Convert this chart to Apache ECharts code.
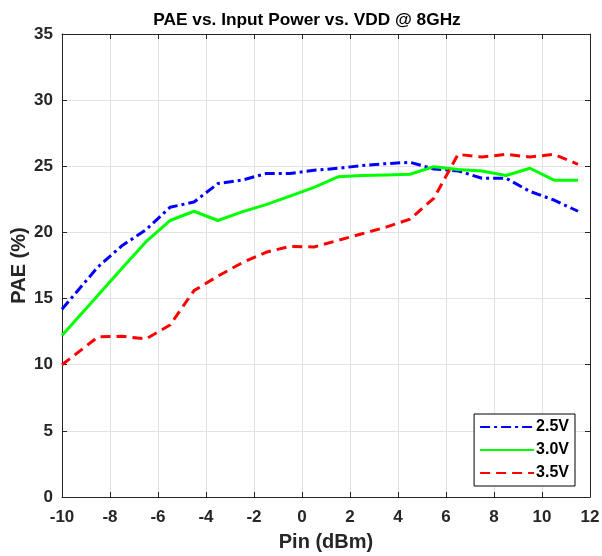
<!DOCTYPE html>
<html>
<head>
<meta charset="utf-8">
<script src="https://cdn.jsdelivr.net/npm/echarts@6/dist/echarts.min.js"></script>
<style>html,body{margin:0;padding:0;background:#fff}#c{width:602px;height:556px}</style>
</head>
<body>
<div id="c"></div>
<script>
const pin = [-10, -8.5, -7.5, -6.5, -5.5, -4.5, -3.5, -2.5, -1.5, -0.5, 0.5, 1.5, 2.5, 3.5, 4.5, 5.5, 6.5, 7.5, 8.5, 9.5, 10.5, 11.5];
const pae25 = [14.2, 17.4, 19.0, 20.2, 21.9, 22.3, 23.7, 23.95, 24.45, 24.45, 24.7, 24.85, 25.05, 25.2, 25.3, 24.8, 24.65, 24.1, 24.1, 23.1, 22.45, 21.6];
const pae30 = [12.2, 15.25, 17.3, 19.3, 20.9, 21.6, 20.9, 21.55, 22.1, 22.75, 23.4, 24.2, 24.3, 24.35, 24.4, 24.97, 24.75, 24.65, 24.3, 24.85, 23.95, 23.95];
const pae35 = [10.0, 12.1, 12.15, 11.95, 13.0, 15.6, 16.7, 17.7, 18.5, 18.95, 18.9, 19.4, 19.9, 20.4, 21.0, 22.6, 25.9, 25.7, 25.9, 25.7, 25.9, 25.15];
const seriesNames = ['2.5V', '3.0V', '3.5V'];

const font = 'Liberation Sans, Arial, sans-serif';
const txt = '#262626';
const chart = echarts.init(document.getElementById('c'), null, {renderer: 'canvas'});
function pts(ys){ return pin.map((x,i)=>[x, ys[i]]); }
const axBase = {
  axisLine: {show: true, onZero: false, lineStyle: {color: txt, width: 1}},
  axisTick: {show: true, inside: true, length: 5, lineStyle: {color: txt}},
};
chart.setOption({
  animation: false,
  title: {
    text: 'PAE vs. Input Power vs. VDD @ 8GHz',
    left: 302, top: 7, textAlign: 'center',
    textStyle: {fontFamily: font, fontWeight: 'bold', fontSize: 17.3, color: '#000'}
  },
  grid: {left: 62, right: 12, top: 34, bottom: 59, show: false, containLabel: false, outerBoundsMode: 'none'},
  legend: {
    right: 27, top: 414, orient: 'vertical',
    backgroundColor: '#fff', borderColor: '#000', borderWidth: 1,
    padding: [5, 6, 5, 5], itemGap: 7, itemWidth: 54, itemHeight: 14,
    itemStyle: {opacity: 0},
    textStyle: {fontFamily: font, fontWeight: 'bold', fontSize: 16, color: '#000', padding: [0,0,0,-3]},
    data: seriesNames
  },
  xAxis: [
    Object.assign({}, axBase, {
      type: 'value', min: -10, max: 12, interval: 2,
      name: 'Pin (dBm)', nameLocation: 'middle', nameGap: 35,
      nameTextStyle: {fontFamily: font, fontWeight: 'bold', fontSize: 20, color: txt},
      axisLabel: {fontFamily: font, fontWeight: 'bold', fontSize: 17, color: txt, margin: 12},
      splitLine: {show: true, lineStyle: {color: '#e3e3e3', width: 1}}
    }),
    Object.assign({}, axBase, {
      type: 'value', min: -10, max: 12, interval: 2, position: 'top',
      axisLabel: {show: false}, splitLine: {show: false}
    })
  ],
  yAxis: [
    Object.assign({}, axBase, {
      type: 'value', min: 0, max: 35, interval: 5,
      name: 'PAE (%)', nameLocation: 'middle', nameGap: 33, nameMoveOverlap: false,
      nameTextStyle: {fontFamily: font, fontWeight: 'bold', fontSize: 20, color: txt},
      axisLabel: {fontFamily: font, fontWeight: 'bold', fontSize: 17, color: txt, margin: 9},
      splitLine: {show: true, lineStyle: {color: '#e3e3e3', width: 1}}
    }),
    Object.assign({}, axBase, {
      type: 'value', min: 0, max: 35, interval: 5, position: 'right',
      axisLabel: {show: false}, splitLine: {show: false}
    })
  ],
  series: [
    {name: seriesNames[0], type: 'line', data: pts(pae25), symbol: 'none', color: '#0000ff',
     lineStyle: {color: '#0000ff', width: 3, type: [10, 4, 3, 4]}},
    {name: seriesNames[1], type: 'line', data: pts(pae30), symbol: 'none', color: '#00ff00',
     lineStyle: {color: '#00ff00', width: 3, type: 'solid'}},
    {name: seriesNames[2], type: 'line', data: pts(pae35), symbol: 'none', color: '#ff0000',
     lineStyle: {color: '#ff0000', width: 3, type: [10, 6]}}
  ]
});
</script>
</body>
</html>
